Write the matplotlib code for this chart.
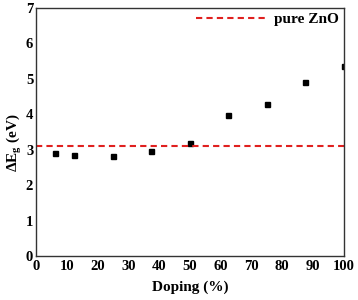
import matplotlib
matplotlib.use("Agg")
import matplotlib.pyplot as plt

doping = [6.25, 12.5, 25, 37.5, 50, 62.5, 75, 87.5, 100]
delta_eg = [2.91, 2.85, 2.83, 2.96, 3.20, 3.98, 4.30, 4.90, 5.37]
pure_zno = 3.10
xticks = [0, 10, 20, 30, 40, 50, 60, 70, 80, 90, 100]
yticks = [0, 1, 2, 3, 4, 5, 6, 7]

plt.rcParams['font.family'] = ['Liberation Serif', 'DejaVu Serif']
plt.rcParams['font.weight'] = 'bold'
plt.rcParams['mathtext.fontset'] = 'custom'
plt.rcParams['mathtext.rm'] = 'Liberation Serif:bold'
plt.rcParams['mathtext.bf'] = 'Liberation Serif:bold'
plt.rcParams['mathtext.it'] = 'Liberation Serif:bold'

fig = plt.figure(figsize=(3.58, 3.0), dpi=100)
ax = fig.add_axes([36/358, 1 - 256/300, (343.5-36)/358, (256-8)/300])

ax.plot(doping, delta_eg, linestyle='none', marker='s', color='black', markersize=3.6)
ax.axhline(pure_zno, color='#e0201f', linestyle=(0, (3, 2)), linewidth=1.5, label='pure ZnO')

ax.set_xlim(0, 100)
ax.set_ylim(0, 7)
ax.set_xticks(xticks)
ax.set_yticks(yticks)
ax.tick_params(length=0, labelsize=10.5, pad=2)
ax.tick_params(axis='x', pad=3)
for lab in ax.get_xticklabels() + ax.get_yticklabels():
    lab.set_fontweight('bold')

for sp in ax.spines.values():
    sp.set_linewidth(1.0)
    sp.set_color('#333333')

ax.set_xlabel('Doping (%)', fontsize=11, fontweight='bold', labelpad=5)
ax.set_ylabel(r'$\Delta$E$_{\rm g}$ (eV)', fontsize=11, fontweight='bold')
ax.yaxis.set_label_coords(-0.038, 0.456)

ax.legend(loc='upper right', frameon=False, handlelength=4.7,
          borderaxespad=0.0, borderpad=0.3, handletextpad=0.4,
          bbox_to_anchor=(1.0, 1.0),
          prop={'weight': 'bold', 'size': 11})

fig.savefig('out.png', dpi=100)
